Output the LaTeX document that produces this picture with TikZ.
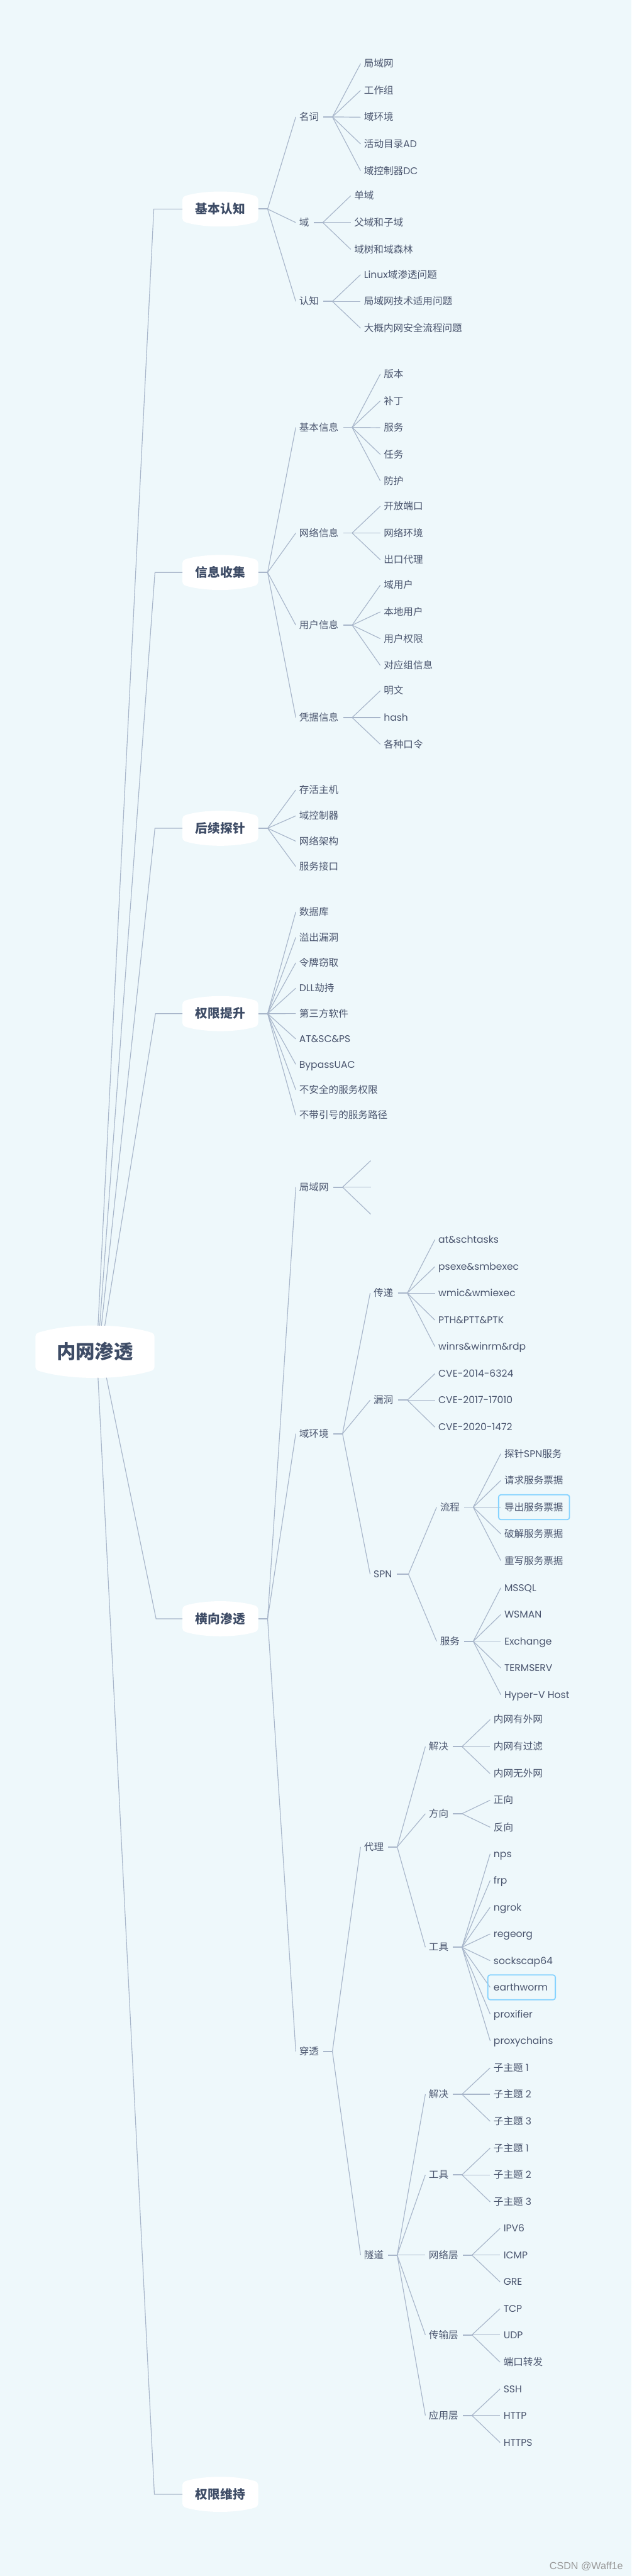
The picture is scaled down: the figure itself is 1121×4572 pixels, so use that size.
\documentclass[tikz,border=0pt]{standalone}
\usepackage{fontspec}
\setmainfont{Poppins}
\newfontfamily\cjk{Noto Sans CJK SC}
\newfontfamily\wmfont{Liberation Sans}
\usetikzlibrary{calc}
\definecolor{bgc}{HTML}{EEF8FB}
\definecolor{lnc}{HTML}{A8B6CA}
\definecolor{txt}{HTML}{4A556E}
\definecolor{txtb}{HTML}{3E4C66}
\definecolor{hlc}{HTML}{86D3FF}
\definecolor{wmc}{HTML}{9A9A9A}
\pgfdeclarelayer{back}
\pgfsetlayers{back,main}
\newcommand\E[1]{{\rmfamily #1}}
\newcommand\bulgebox[2]{%
  \fill[white, rounded corners=5pt]
    ($(#1.north west)+(0,#2)$)
    .. controls ($(#1.north west)!0.28!(#1.north east)+(0,-#2/3)$) and ($(#1.north west)!0.72!(#1.north east)+(0,-#2/3)$) ..
    ($(#1.north east)+(0,#2)$) -- ($(#1.south east)+(0,-#2)$)
    .. controls ($(#1.south west)!0.72!(#1.south east)+(0,#2/3)$) and ($(#1.south west)!0.28!(#1.south east)+(0,#2/3)$) ..
    ($(#1.south west)+(0,-#2)$) -- cycle;}
\tikzset{
  lk/.style={draw=lnc, line width=1.3pt},
  stub/.style={draw=lnc, line width=2pt},
  leaf/.style={anchor=west, inner xsep=6pt, inner ysep=0pt, text height=12.5pt, text depth=0pt,
    font=\fontsize{17.4}{20}\selectfont\cjk, text=txt},
  mainbox/.style={minimum width=134pt, minimum height=61pt, inner sep=0pt, text height=16pt, text depth=0pt,
    font=\fontsize{22}{26}\selectfont\cjk\bfseries, text=txtb},
  rootbox/.style={minimum width=211pt, minimum height=92pt, inner sep=0pt, text height=24.5pt, text depth=0pt,
    font=\fontsize{34}{40}\selectfont\cjk\bfseries, text=txtb},
  hl/.style={draw=hlc, line width=2pt, rounded corners=4pt}
}
\begin{document}
\begin{tikzpicture}[x=1pt,y=-1pt]
\useasboundingbox (0,0) rectangle (1121,4572);
\begin{pgfonlayer}{back}
\fill[bgc] (0,0) rectangle (1121,4572);
\end{pgfonlayer}

% root and main topics
\node[rootbox] (root) at (168.5,2399) {内网渗透};
\node[mainbox] (A) at (391,371) {基本认知};
\node[mainbox] (B) at (391,1016) {信息收集};
\node[mainbox] (C) at (391,1470) {后续探针};
\node[mainbox] (D) at (391,1799) {权限提升};
\node[mainbox] (E) at (391,2873) {横向渗透};
\node[mainbox] (F) at (391,4427) {权限维持};

\coordinate (Ab) at (273,371);
\coordinate (Bb) at (275,1016);
\coordinate (Cb) at (275,1470);
\coordinate (Db) at (276,1799);
\coordinate (Eb) at (277,2873);
\coordinate (Fb) at (274,4427);
\draw[lk] ($(root.north)+(5.5,0)$) -- (Ab) -- (A.west);
\draw[lk] ($(root.north)+(8.5,0)$) -- (Bb) -- (B.west);
\draw[lk] ($(root.north)+(11.5,0)$) -- (Cb) -- (C.west);
\draw[lk] ($(root.north)+(17.5,0)$) -- (Db) -- (D.west);
\draw[lk] ($(root.south)+(20.5,0)$) -- (Eb) -- (E.west);
\draw[lk] ($(root.south)+(5.5,0)$) -- (Fb) -- (F.west);

\foreach \nm/\yy in {A/371, B/1016, C/1470, D/1799, E/2873} {
  \coordinate (\nm j) at (475,\yy);
  \draw[stub] (\nm.east) -- (\nm j);
}

% ---------- 基本认知
\node[leaf] (A1) at (525,207.5) {名词};
\node[leaf] (A2) at (525,395) {域};
\node[leaf] (A3) at (525,535) {认知};
\foreach \nm in {A1,A2,A3} {\draw[lk] (Aj) -- (\nm.west);}
\coordinate (A1j) at (590,207.5);
\coordinate (A2j) at (573,395);
\coordinate (A3j) at (590,535);
\foreach \nm in {A1,A2,A3} {\draw[stub] ($(\nm.east)+(2,0)$) -- (\nm j);}
\foreach \nm/\yy/\lbl in {A11/113/局域网, A12/160.5/工作组, A13/208/域环境, A14/255.5/活动目录\E{AD}, A15/303/域控制器\E{DC}}
  {\node[leaf] (\nm) at (640,\yy) {\lbl}; \draw[lk] (A1j) -- (\nm.west);}
\foreach \nm/\yy/\lbl in {A21/347.5/单域, A22/395/父域和子域, A23/442.5/域树和域森林}
  {\node[leaf] (\nm) at (622.5,\yy) {\lbl}; \draw[lk] (A2j) -- (\nm.west);}
\foreach \nm/\yy/\lbl in {A31/487.5/\E{Linux}域渗透问题, A32/535/局域网技术适用问题, A33/582.5/大概内网安全流程问题}
  {\node[leaf] (\nm) at (640,\yy) {\lbl}; \draw[lk] (A3j) -- (\nm.west);}

% ---------- 信息收集
\node[leaf] (B1) at (525,758.5) {基本信息};
\node[leaf] (B2) at (525,946) {网络信息};
\node[leaf] (B3) at (525,1109.5) {用户信息};
\node[leaf] (B4) at (525,1273.5) {凭据信息};
\foreach \nm/\yy in {B1/758.5,B2/946,B3/1109.5,B4/1273.5} {
  \draw[lk] (Bj) -- (\nm.west);
  \coordinate (\nm j) at (625,\yy);
  \draw[stub] ($(\nm.east)+(2,0)$) -- (\nm j);
}
\foreach \nm/\yy/\lbl in {B11/664/版本, B12/711.5/补丁, B13/759/服务, B14/806.5/任务, B15/853.5/防护}
  {\node[leaf] (\nm) at (675,\yy) {\lbl}; \draw[lk] (B1j) -- (\nm.west);}
\foreach \nm/\yy/\lbl in {B21/898.5/开放端口, B22/946/网络环境, B23/993.5/出口代理}
  {\node[leaf] (\nm) at (675,\yy) {\lbl}; \draw[lk] (B2j) -- (\nm.west);}
\foreach \nm/\yy/\lbl in {B31/1038.5/域用户, B32/1086/本地用户, B33/1133.5/用户权限, B34/1181/对应组信息}
  {\node[leaf] (\nm) at (675,\yy) {\lbl}; \draw[lk] (B3j) -- (\nm.west);}
\foreach \nm/\yy/\lbl in {B41/1226/明文, B42/1273.5/\E{hash}, B43/1321/各种口令}
  {\node[leaf] (\nm) at (675,\yy) {\lbl}; \draw[lk] (B4j) -- (\nm.west);}

% ---------- 后续探针
\foreach \nm/\yy/\lbl in {C1/1402/存活主机, C2/1448/域控制器, C3/1493/网络架构, C4/1538/服务接口}
  {\node[leaf] (\nm) at (525,\yy) {\lbl}; \draw[lk] (Cj) -- (\nm.west);}

% ---------- 权限提升
\foreach \nm/\yy/\lbl in {D1/1618.5/数据库, D2/1663.6/溢出漏洞, D3/1708.7/令牌窃取, D4/1753.8/\E{DLL}劫持,
  D5/1798.9/第三方软件, D6/1844/\E{AT\&SC\&PS}, D7/1889.1/\E{BypassUAC}, D8/1934.2/不安全的服务权限, D9/1979.3/不带引号的服务路径}
  {\node[leaf] (\nm) at (525,\yy) {\lbl}; \draw[lk] (Dj) -- (\nm.west);}

% ---------- 横向渗透
\node[leaf] (E1) at (525,2107) {局域网};
\node[leaf] (E2) at (525,2544.5) {域环境};
\node[leaf] (E3) at (525,3641) {穿透};
\foreach \nm in {E1,E2,E3} {\draw[lk] (Ej) -- (\nm.west);}
\coordinate (E1j) at (608,2107);
\coordinate (E2j) at (608,2544.5);
\coordinate (E3j) at (590,3641);
\foreach \nm in {E1,E2,E3} {\draw[stub] ($(\nm.east)+(2,0)$) -- (\nm j);}
\coordinate (E1a) at (658,2060);
\coordinate (E1b) at (658,2107);
\coordinate (E1c) at (658,2155);
\foreach \nm in {E1a,E1b,E1c} {\draw[lk] (E1j) -- (\nm);}

% 域环境
\node[leaf] (E21) at (657,2295) {传递};
\node[leaf] (E22) at (657,2485) {漏洞};
\node[leaf] (E23) at (657,2794) {\E{SPN}};
\foreach \nm in {E21,E22,E23} {\draw[lk] (E2j) -- (\nm.west);}
\coordinate (E21j) at (723,2295);
\coordinate (E22j) at (723,2485);
\coordinate (E23j) at (725,2794);
\foreach \nm in {E21,E22,E23} {\draw[stub] ($(\nm.east)+(2,0)$) -- (\nm j);}
\foreach \nm/\yy/\lbl in {E211/2200/at\&schtasks, E212/2248/psexe\&smbexec, E213/2295/wmic\&wmiexec, E214/2343/PTH\&PTT\&PTK, E215/2390/winrs\&winrm\&rdp}
  {\node[leaf] (\nm) at (772,\yy) {\E{\lbl}}; \draw[lk] (E21j) -- (\nm.west);}
\foreach \nm/\yy/\lbl in {E221/2438/CVE-2014-6324, E222/2485/CVE-2017-17010, E223/2533/CVE-2020-1472}
  {\node[leaf] (\nm) at (772,\yy) {\E{\lbl}}; \draw[lk] (E22j) -- (\nm.west);}
\node[leaf] (E231) at (775,2675) {流程};
\node[leaf] (E232) at (775,2913) {服务};
\foreach \nm in {E231,E232} {\draw[lk] (E23j) -- (\nm.west);}
\coordinate (E231j) at (840,2675);
\coordinate (E232j) at (840,2913);
\foreach \nm in {E231,E232} {\draw[stub] ($(\nm.east)+(2,0)$) -- (\nm j);}
\foreach \nm/\yy/\lbl in {E2311/2580/探针\E{SPN}服务, E2312/2627.5/请求服务票据, E2313/2675/导出服务票据, E2314/2722.5/破解服务票据, E2315/2770/重写服务票据}
  {\node[leaf] (\nm) at (889,\yy) {\lbl}; \draw[lk] (E231j) -- (\nm.west);}
\foreach \nm/\yy/\lbl in {E2321/2818/MSSQL, E2322/2865.5/WSMAN, E2323/2913/Exchange, E2324/2960.5/TERMSERV, E2325/3008/Hyper-V Host}
  {\node[leaf] (\nm) at (889,\yy) {\E{\lbl}}; \draw[lk] (E232j) -- (\nm.west);}
\draw[hl] ($(E2313.west)+(-4,-22)$) rectangle ($(E2313.east)+(5,22)$);

% 穿透
\node[leaf] (E31) at (640,3278) {代理};
\node[leaf] (E32) at (640,4002.5) {隧道};
\foreach \nm in {E31,E32} {\draw[lk] (E3j) -- (\nm.west);}
\coordinate (E31j) at (705,3278);
\coordinate (E32j) at (705,4002.5);
\foreach \nm in {E31,E32} {\draw[stub] ($(\nm.east)+(2,0)$) -- (\nm j);}
% 代理
\node[leaf] (E311) at (755,3100) {解决};
\node[leaf] (E312) at (755,3219) {方向};
\node[leaf] (E313) at (755,3456) {工具};
\foreach \nm in {E311,E312,E313} {\draw[lk] (E31j) -- (\nm.west);}
\coordinate (E311j) at (820,3100);
\coordinate (E312j) at (820,3219);
\coordinate (E313j) at (820,3456);
\foreach \nm in {E311,E312,E313} {\draw[stub] ($(\nm.east)+(2,0)$) -- (\nm j);}
\foreach \nm/\yy/\lbl in {E3111/3052/内网有外网, E3112/3100/内网有过滤, E3113/3148/内网无外网}
  {\node[leaf] (\nm) at (870,\yy) {\lbl}; \draw[lk] (E311j) -- (\nm.west);}
\foreach \nm/\yy/\lbl in {E3121/3195/正向, E3122/3243/反向}
  {\node[leaf] (\nm) at (870,\yy) {\lbl}; \draw[lk] (E312j) -- (\nm.west);}
\foreach \nm/\yy/\lbl in {E3131/3290.2/nps, E3132/3337.6/frp, E3133/3385/ngrok, E3134/3432.4/regeorg, E3135/3479.8/sockscap64, E3136/3527.2/earthworm, E3137/3574.6/proxifier, E3138/3622/proxychains}
  {\node[leaf] (\nm) at (870,\yy) {\E{\lbl}}; \draw[lk] (E313j) -- (\nm.west);}
\draw[hl] ($(E3136.west)+(-4,-22)$) rectangle ($(E3136.east)+(7,22)$);
% 隧道
\node[leaf] (E321) at (755,3717) {解决};
\node[leaf] (E322) at (755,3860) {工具};
\node[leaf] (E323) at (755,4002.5) {网络层};
\node[leaf] (E324) at (755,4144) {传输层};
\node[leaf] (E325) at (755,4287) {应用层};
\foreach \nm in {E321,E322,E323,E324,E325} {\draw[lk] (E32j) -- (\nm.west);}
\coordinate (E321j) at (820,3717);
\coordinate (E322j) at (820,3860);
\coordinate (E323j) at (837.6,4002.5);
\coordinate (E324j) at (837.6,4144);
\coordinate (E325j) at (837.6,4287);
\foreach \nm in {E321,E322,E323,E324,E325} {\draw[stub] ($(\nm.east)+(2,0)$) -- (\nm j);}
\foreach \nm/\yy/\lbl in {E3211/3670/子主题\E{ 1}, E3212/3717/子主题\E{ 2}, E3213/3765/子主题\E{ 3}}
  {\node[leaf] (\nm) at (870,\yy) {\lbl}; \draw[lk] (E321j) -- (\nm.west);}
\foreach \nm/\yy/\lbl in {E3221/3812.5/子主题\E{ 1}, E3222/3860/子主题\E{ 2}, E3223/3908/子主题\E{ 3}}
  {\node[leaf] (\nm) at (870,\yy) {\lbl}; \draw[lk] (E322j) -- (\nm.west);}
\foreach \nm/\yy/\lbl in {E3231/3955/\E{IPV6}, E3232/4002.5/\E{ICMP}, E3233/4050/\E{GRE}}
  {\node[leaf] (\nm) at (887.6,\yy) {\lbl}; \draw[lk] (E323j) -- (\nm.west);}
\foreach \nm/\yy/\lbl in {E3241/4097.5/\E{TCP}, E3242/4144/\E{UDP}, E3243/4192.5/端口转发}
  {\node[leaf] (\nm) at (887.6,\yy) {\lbl}; \draw[lk] (E324j) -- (\nm.west);}
\foreach \nm/\yy/\lbl in {E3251/4240/\E{SSH}, E3252/4287/\E{HTTP}, E3253/4335/\E{HTTPS}}
  {\node[leaf] (\nm) at (887.6,\yy) {\lbl}; \draw[lk] (E325j) -- (\nm.west);}

% watermark
\node[anchor=east, inner sep=0pt, font=\fontsize{18}{20}\selectfont\wmfont, text=wmc] (wm) at (1106,4555) {CSDN @Waff1e};

% white boxes behind titles
\begin{pgfonlayer}{back}
\bulgebox{root}{14}
\foreach \nm in {A,B,C,D,E,F} {\bulgebox{\nm}{9}}
\end{pgfonlayer}
\end{tikzpicture}
\end{document}
